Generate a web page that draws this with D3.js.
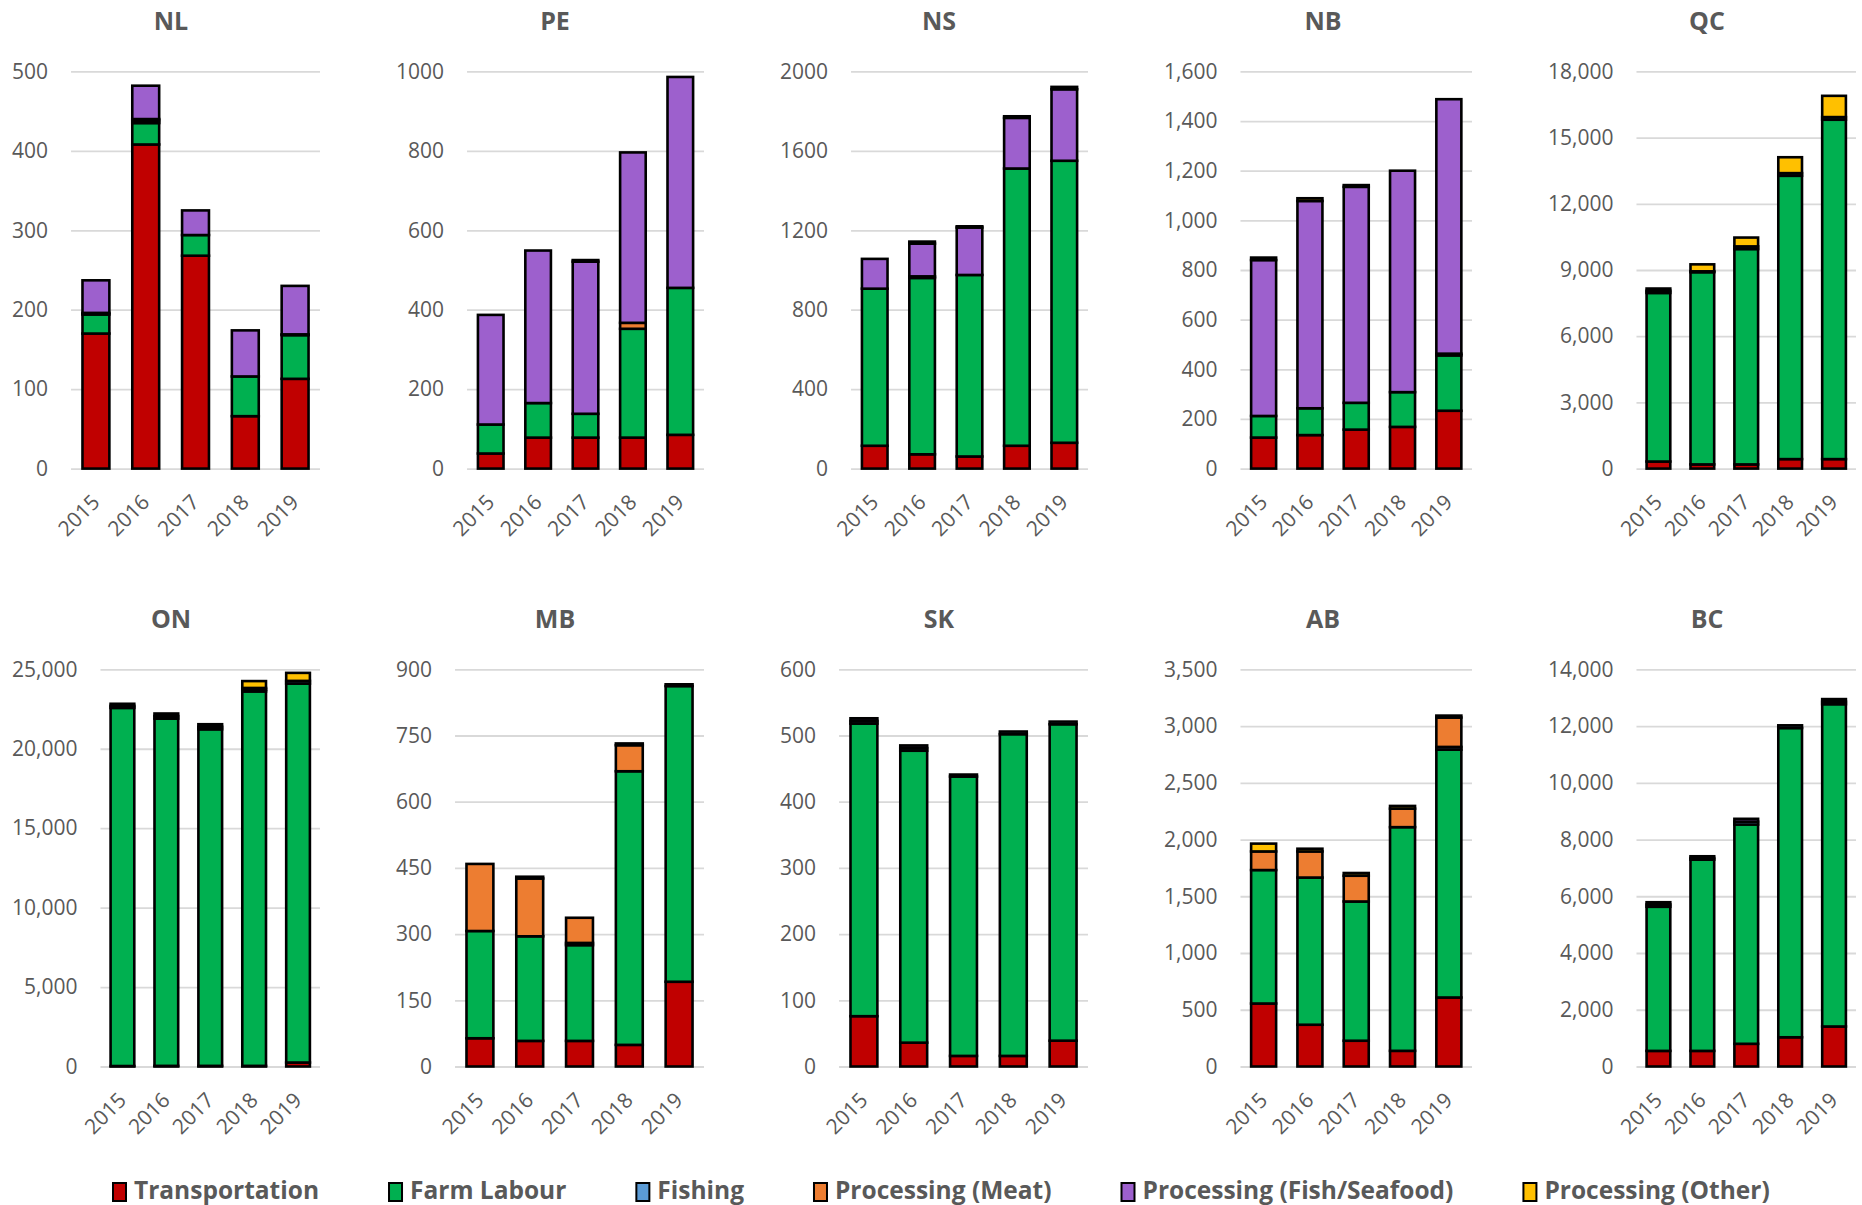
<!DOCTYPE html>
<html><head><meta charset="utf-8">
<script src="https://cdn.jsdelivr.net/npm/d3@7"></script>
<style>body{margin:0;background:#fff}</style>
</head><body><svg id="chart" width="1862" height="1205"></svg>
<script>
// ---------- DATA ----------
const years = ["2015", "2016", "2017", "2018", "2019"];
const provinces = ["NL", "PE", "NS", "NB", "QC", "ON", "MB", "SK", "AB", "BC"];
const seriesNames = ["Transportation", "Farm Labour", "Fishing", "Processing (Meat)", "Processing (Fish/Seafood)", "Processing (Other)"];
const seriesColors = ["#C00000", "#00B050", "#5B9BD5", "#ED7D31", "#9D60CD", "#FFC000"];

// values per province (rows, in province order) for each year (columns)
const transportation = [
  [170, 408, 268, 66, 113], [38, 78, 78, 78, 85], [115, 72, 61, 115, 130], [125, 135, 157, 168, 233],
  [320, 190, 190, 430, 430], [30, 40, 40, 40, 250], [64, 58, 58, 49, 192], [76, 36, 16, 16, 39],
  [555, 368, 227, 138, 608], [550, 550, 800, 1030, 1410]];
const farmLabour = [
  [24, 27, 26, 50, 55], [73, 87, 60, 274, 370], [791, 888, 914, 1396, 1420], [87, 108, 108, 140, 223],
  [7640, 8710, 9760, 12840, 15380], [22540, 21858, 21183, 23566, 23851], [243, 237, 217, 620, 670], [442, 441, 422, 486, 478],
  [1176, 1297, 1227, 1971, 2184], [5080, 6740, 7730, 10900, 11360]];
const fishing = [
  [2, 3, 0, 0, 1], [0, 0, 0, 0, 0], [0, 8, 0, 0, 0], [0, 0, 0, 0, 7],
  [100, 40, 120, 120, 120], [130, 160, 160, 110, 170], [0, 0, 5, 0, 0], [4, 4, 3, 4, 4],
  [0, 0, 0, 0, 24], [80, 60, 100, 95, 90]];
const processingMeat = [
  [0, 2, 0, 0, 0], [0, 0, 0, 15, 0], [0, 0, 0, 0, 0], [0, 0, 0, 0, 0],
  [0, 0, 0, 0, 0], [0, 0, 0, 0, 0], [152, 131, 57, 59, 0], [0, 0, 0, 0, 0],
  [164, 230, 227, 163, 259], [0, 0, 0, 0, 0]];
const processingFish = [
  [41, 42, 31, 58, 61], [276, 384, 383, 429, 531], [150, 165, 239, 255, 360], [628, 835, 870, 892, 1025],
  [100, 0, 0, 0, 0], [130, 160, 160, 110, 0], [0, 0, 0, 0, 0], [4, 4, 0, 0, 0],
  [0, 0, 0, 0, 0], [80, 60, 100, 0, 90]];
const processingOther = [
  [0, 0, 0, 0, 0], [0, 0, 4, 0, 0], [0, 10, 6, 8, 12], [10, 11, 7, 0, 0],
  [0, 316, 400, 720, 963], [0, 0, 0, 432, 504], [0, 4, 0, 4, 4], [0, 0, 0, 0, 0],
  [69, 24, 24, 24, 17], [0, 0, 0, 0, 0]];

// axis tick settings per province
const tickMax = [500, 1000, 2000, 1600, 18000, 25000, 900, 600, 3500, 14000];
const tickStep = [100, 200, 400, 200, 3000, 5000, 150, 100, 500, 2000];
const tickComma = [false, false, false, true, true, true, true, true, true, true];

// ---------- DRAW ----------
const allSeries = [transportation, farmLabour, fishing, processingMeat, processingFish, processingOther];
const svg = d3.select("#chart");
const FONT = "'Open Sans', 'Noto Sans', sans-serif";
const GREY = "#595959";

provinces.forEach((prov, i) => {
  const col = i % 5, row = Math.floor(i / 5);
  const x0 = col * 384;
  const top = row === 0 ? 71.4 : 669.3;
  const bottom = top + 397.2;
  const g = svg.append("g");
  const fmt = tickComma[i] ? d3.format(",") : d3.format("d");
  const ticks = d3.range(0, tickMax[i] + tickStep[i] / 2, tickStep[i]);

  // measure tick label width to place plot area like the original
  const tmp = g.append("text").style("font-family", FONT).style("font-size", "21px");
  let maxW = 0;
  ticks.forEach(t => { tmp.text(fmt(t)); maxW = Math.max(maxW, tmp.node().getComputedTextLength()); });
  tmp.remove();
  const left = x0 + 12 + maxW + 23, right = x0 + 320;

  const y = d3.scaleLinear().domain([0, tickMax[i]]).range([bottom, top]);
  const x = d3.scaleBand().domain(years).range([left, right]).paddingInner(0.46).paddingOuter(0.23);

  // title
  g.append("text").attr("x", x0 + 171).attr("y", top - 41.5)
    .attr("text-anchor", "middle").style("font-family", FONT).style("font-size", "25px")
    .style("font-weight", "bold").style("fill", GREY).text(prov);

  // y axis with gridlines
  const ya = g.append("g").attr("transform", `translate(${left},0)`)
    .call(d3.axisLeft(y).tickValues(ticks).tickFormat(fmt).tickSize(-(right - left)).tickPadding(23));
  ya.select(".domain").remove();
  ya.selectAll(".tick line").attr("stroke", "#D9D9D9").attr("stroke-width", 1.8);
  ya.selectAll(".tick text").style("font-family", FONT).style("font-size", "21px").style("fill", GREY);

  // stacked bars
  const rows = years.map((yr, j) => {
    const r = { year: yr };
    seriesNames.forEach((s, k) => r[s] = allSeries[k][i][j]);
    return r;
  });
  const stack = d3.stack().keys(seriesNames)(rows);
  stack.forEach((layer, k) => {
    g.append("g").selectAll("rect")
      .data(layer.filter(d => d[1] - d[0] > 0))
      .join("rect")
      .attr("x", d => x(d.data.year))
      .attr("width", x.bandwidth())
      .attr("y", d => y(d[1]))
      .attr("height", d => y(d[0]) - y(d[1]))
      .attr("fill", seriesColors[k])
      .attr("stroke", "#000")
      .attr("stroke-width", 2.6);
  });

  // x axis labels
  const xa = g.append("g").attr("transform", `translate(0,${bottom})`)
    .call(d3.axisBottom(x).tickSize(0));
  xa.select(".domain").remove();
  xa.selectAll(".tick text")
    .attr("x", 0).attr("y", 0).attr("dy", 0)
    .attr("text-anchor", "end")
    .attr("transform", "translate(5,35) rotate(-45)")
    .style("font-family", FONT).style("font-size", "21px").style("fill", GREY);
});

// legend
const lg = svg.append("g");
let lx = 113;
seriesNames.forEach((s, k) => {
  lg.append("rect").attr("x", lx).attr("y", 1183).attr("width", 13).attr("height", 18)
    .attr("fill", seriesColors[k]).attr("stroke", "#000").attr("stroke-width", 2);
  const t = lg.append("text").attr("x", lx + 21).attr("y", 1198.5)
    .style("font-family", FONT).style("font-size", "24.5px").style("font-weight", "bold")
    .style("fill", GREY).text(s);
  lx += 21 + t.node().getComputedTextLength() + 70;
});
</script>
</body></html>
